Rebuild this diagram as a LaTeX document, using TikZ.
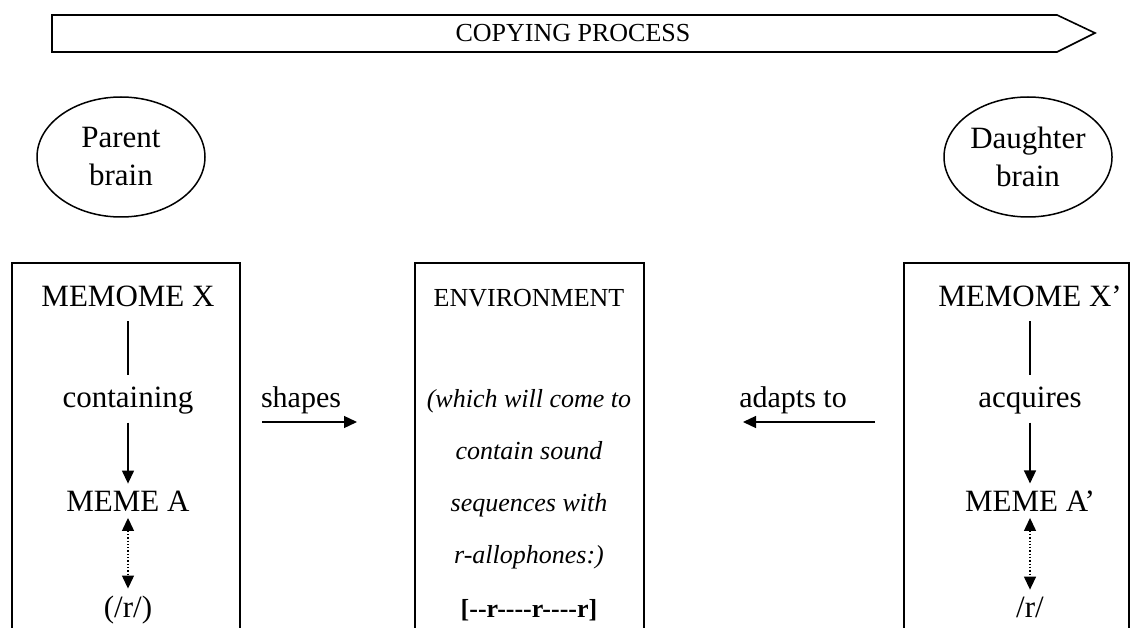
\documentclass[tikz,border=0pt]{standalone}
\usepackage{fontspec}
\setmainfont{Liberation Serif}
\usetikzlibrary{shapes.geometric,arrows.meta}

\begin{document}
\begin{tikzpicture}[x=1pt,y=1pt,yscale=-1,xscale=1,
	lbl/.style={inner sep=0.75pt,anchor=base,font=\fontsize{31}{38}\selectfont},
	env/.style={inner sep=0.75pt,anchor=base,font=\fontsize{26}{38}\selectfont},
	brain/.style={draw,ellipse,line width=1.5,minimum width=168,minimum height=120,align=center,inner sep=0pt,font=\fontsize{31}{38}\selectfont},
	frame/.style={line width=1.6},
	link/.style={line width=1.3},
	tip/.style={-{Triangle[length=13,width=12]},line width=1.3}]
	\useasboundingbox (0,0) rectangle (1139,628);

	% Process arrow
	\draw [line width=1.6] (52,15) -- (1057,15) -- (1095,33) -- (1057,52) -- (52,52) -- cycle;
	\node [env] (proc) at (573,42) {COPYING PROCESS};

	% Brains
	\node [brain] (parent) at (121,157) {Parent\\brain};
	\node [brain] (daughter) at (1028,157) {Daughter\\brain};

	% Boxes
	\draw [frame] (12,640) -- (12,263) -- (240,263) -- (240,640);
	\draw [frame] (415,640) -- (415,263) -- (644,263) -- (644,640);
	\draw [frame] (904,640) -- (904,263) -- (1129,263) -- (1129,640);

	% Left column
	\node [lbl] (memx) at (128,306) {MEMOME X};
	\node [lbl] (cont) at (128,407) {containing};
	\node [lbl] (memea) at (128,511) {MEME A};
	\node [lbl] (rleft) at (128,617) {(/r/)};
	\draw [link,shorten <=14,shorten >=11] (memx.south) -- (cont.north);
	\draw [tip,shorten <=8,shorten >=6] (cont.south) -- (memea.north);
	\draw [tip,dotted,{Triangle[length=13,width=12]}-{Triangle[length=13,width=12]},shorten <=6,shorten >=6] (memea.south) -- (rleft.north);

	% Middle column
	\node [env] (envhead) at (529,306) {ENVIRONMENT};
	\node [env,font=\fontsize{26}{38}\itshape] (env1) at (529,407) {(which will come to};
	\node [env,font=\fontsize{26}{38}\itshape] (env2) at (529,459) {contain sound};
	\node [env,font=\fontsize{26}{38}\itshape] (env3) at (529,511) {sequences with};
	\node [env,font=\fontsize{26}{38}\itshape] (env4) at (529,563) {r-allophones:)};
	\node [env,font=\fontsize{26}{38}\bfseries] (seq) at (529,617) {[-{}-r-{}-{}-{}-r-{}-{}-{}-r]};

	% Right column
	\node [lbl] (memx2) at (1030,306) {MEMOME X’};
	\node [lbl] (acq) at (1030,407) {acquires};
	\node [lbl] (memea2) at (1030,511) {MEME A’};
	\node [lbl] (rright) at (1030,617) {/r/};
	\draw [link,shorten <=14,shorten >=11] (memx2.south) -- (acq.north);
	\draw [tip,shorten <=8,shorten >=6] (acq.south) -- (memea2.north);
	\draw [tip,dotted,{Triangle[length=13,width=12]}-{Triangle[length=13,width=12]},shorten <=6,shorten >=6] (memea2.south) -- (rright.north);

	% Between boxes
	\coordinate (shs) at (262,422);
	\coordinate (she) at (357,422);
	\draw [tip] (shs) -- (she);
	\node [lbl,font=\fontsize{30}{38}\selectfont] (shapes) at (301,407) {shapes};
	\coordinate (ads) at (875,422);
	\coordinate (ade) at (743,422);
	\draw [tip] (ads) -- (ade);
	\node [lbl,font=\fontsize{30}{38}\selectfont] (adapts) at (793,407) {adapts to};

\end{tikzpicture}
\end{document}
